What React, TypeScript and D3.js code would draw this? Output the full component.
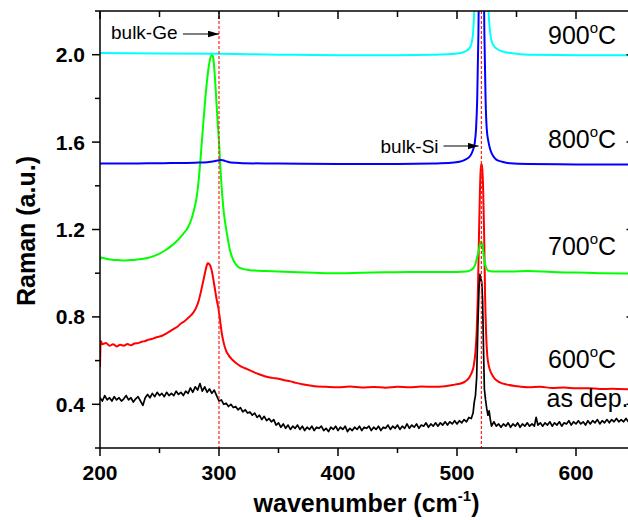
import React from 'react';
import * as d3 from 'd3';

type P = [number, number];

const xMajor = [200, 300, 400, 500, 600];
const xMinor = [250, 350, 450, 550, 650];
const yMajor = [0.4, 0.8, 1.2, 1.6, 2.0];
const yMinor = [0.2, 0.6, 1.0, 1.4, 1.8, 2.2];
const yTickLabels = ['0.4', '0.8', '1.2', '1.6', '2.0'];
const refLines = [300, 520.5];

const asDep: P[] = [
  [200,.43],[202,.415],[204,.44],[206,.42],[208,.43],[210,.415],[212,.435],[214,.42],[216,.43],[218,.415],
  [220,.425],[222,.44],[224,.42],[226,.43],[228,.41],[230,.425],[232,.435],[234,.415],[236,.395],[238,.43],
  [240,.445],[242,.43],[244,.45],[246,.435],[248,.455],[250,.44],[252,.45],[254,.435],[256,.455],[258,.44],
  [260,.45],[262,.44],[264,.46],[266,.445],[268,.455],[270,.44],[272,.46],[274,.45],[276,.475],[278,.455],
  [280,.48],[282,.465],[284,.495],[286,.46],[288,.48],[290,.455],[292,.47],[294,.45],[296,.465],[298,.44],
  [300,.415],[302,.42],[304,.40],[306,.405],[308,.39],[310,.40],[312,.385],[314,.39],[316,.375],[318,.385],
  [320,.365],[322,.375],[324,.36],[326,.365],[328,.35],[330,.36],[332,.34],[334,.35],[336,.33],[338,.345],
  [340,.325],[342,.335],[344,.32],[346,.33],[348,.305],[350,.315],[352,.295],[354,.31],[356,.29],[358,.305],
  [360,.285],[362,.30],[364,.29],[366,.305],[368,.285],[370,.30],[372,.28],[374,.295],[376,.285],[378,.30],
  [380,.28],[382,.295],[384,.29],[386,.30],[388,.28],[390,.29],[392,.275],[394,.295],[396,.285],[398,.30],
  [400,.28],[402,.295],[404,.285],[406,.30],[408,.275],[410,.29],[412,.28],[414,.295],[416,.285],[418,.30],
  [420,.28],[422,.295],[424,.29],[426,.30],[428,.28],[430,.295],[432,.285],[434,.30],[436,.28],[438,.295],
  [440,.29],[442,.305],[444,.285],[446,.30],[448,.29],[450,.305],[452,.285],[454,.30],[456,.29],[458,.31],
  [460,.29],[462,.305],[464,.295],[466,.31],[468,.29],[470,.305],[472,.30],[474,.315],[476,.295],[478,.31],
  [480,.30],[482,.315],[484,.30],[486,.315],[488,.305],[490,.32],[492,.305],[494,.32],[496,.31],[498,.325],
  [500,.31],[502,.325],[504,.315],[506,.33],[508,.32],[510,.34],[512,.335],[513.5,.36],[514.5,.41],[515.5,.44],
  [516.5,.52],[517.5,.75],[518.5,.93],[519.3,.995],[520,.975],[520.8,.96],[521.5,.88],[522.3,.65],[523,.47],[524,.42],
  [525,.38],[526,.35],[527,.37],[528,.33],[529,.30],[531,.32],[533,.30],[535,.31],[537,.295],[539,.31],
  [541,.30],[543,.315],[545,.295],[547,.31],[549,.30],[551,.315],[553,.295],[555,.31],[557,.30],[559,.315],
  [561,.30],[563,.31],[565,.30],[566.5,.34],[568,.305],[570,.315],[572,.30],[574,.315],[576,.305],[578,.32],
  [580,.30],[582,.315],[584,.305],[586,.32],[588,.30],[590,.315],[592,.31],[594,.325],[596,.305],[598,.32],
  [600,.31],[602,.325],[604,.31],[606,.32],[608,.305],[610,.325],[612,.31],[614,.325],[616,.315],[618,.33],
  [620,.31],[622,.325],[624,.315],[626,.33],[628,.315],[630,.33],[632,.32],[634,.335],[636,.32],[638,.33],
  [640,.32],[642,.335],[644,.32],[646,.33],
];

const t600: P[] = [
  [200,0.57],[200.6,0.69],[202,0.675],[205,0.68],[208,0.668],[211,0.675],[214,0.665],[217,0.672],[220,0.668],[223,0.676],
  [226,0.67],[229,0.678],[232,0.68],[235,0.686],[238,0.69],[241,0.696],[244,0.70],[247,0.706],[250,0.71],[253,0.716],
  [256,0.725],[259,0.735],[262,0.745],[265,0.755],[268,0.77],[271,0.78],[274,0.795],[277,0.81],[279,0.825],[281,0.845],
  [283,0.875],[285,0.92],[287,0.97],[289,1.02],[290.5,1.045],[292,1.04],[293.5,1.02],[295,0.98],[296.5,0.93],[298,0.88],
  [299.5,0.84],[301,0.78],[302.5,0.72],[304,0.68],[306,0.645],[308,0.625],[311,0.605],[314,0.59],[318,0.575],[322,0.565],
  [326,0.555],[330,0.545],[335,0.535],[340,0.526],[345,0.521],[350,0.517],[355,0.51],[360,0.505],[365,0.498],[370,0.492],
  [375,0.487],[380,0.483],[390,0.48],[400,0.478],[410,0.481],[420,0.477],[430,0.479],[440,0.476],[450,0.48],[460,0.478],
  [470,0.481],[480,0.48],[490,0.483],[498,0.49],[503,0.495],[507,0.505],[510,0.52],[512,0.54],[514,0.575],[515.5,0.64],
  [516.5,0.73],[517.5,0.9],[518.5,1.18],[519.3,1.38],[520,1.48],[520.6,1.50],[521.2,1.48],[522,1.38],[522.8,1.18],[523.6,0.9],
  [524.5,0.72],[525.5,0.62],[527,0.57],[529,0.54],[532,0.515],[536,0.5],[542,0.49],[550,0.483],[560,0.478],[570,0.48],
  [580,0.475],[590,0.477],[600,0.473],[610,0.474],[620,0.47],[630,0.471],[646,0.468],
];

const t700: P[] = [
  [200,1.06],[201,1.072],[205,1.066],[210,1.062],[215,1.06],[220,1.058],[225,1.06],[230,1.062],[235,1.065],[240,1.07],
  [245,1.078],[250,1.09],[255,1.105],[260,1.125],[265,1.15],[270,1.18],[274,1.21],[277,1.25],[279,1.29],[281,1.34],
  [283,1.43],[285,1.56],[287,1.70],[289,1.83],[291,1.93],[292.5,1.98],[294,2.0],[295,1.99],[296,1.94],[297,1.86],
  [298,1.77],[299,1.68],[300,1.60],[301,1.5],[302,1.41],[303,1.34],[304,1.28],[305.5,1.22],[307,1.17],[309,1.11],
  [311,1.075],[313,1.05],[316,1.03],[320,1.02],[325,1.015],[330,1.012],[340,1.01],[360,1.005],[380,1.002],[400,1.0],
  [420,1.002],[440,1.004],[460,1.005],[480,1.006],[500,1.006],[508,1.008],[512,1.015],[515,1.035],[517,1.075],[518.5,1.11],
  [519.5,1.135],[520.3,1.145],[521.2,1.13],[522.2,1.095],[523.2,1.05],[524.5,1.025],[526,1.012],[530,1.008],[545,1.008],[560,1.01],
  [580,1.005],[600,1.003],[620,1.0],[646,0.998],
];

const t800: P[] = [
  [200,1.502],[220,1.502],[240,1.503],[260,1.504],[280,1.506],[290,1.508],[296,1.512],[300,1.517],[302,1.518],[305,1.514],
  [308,1.509],[314,1.505],[320,1.503],[350,1.502],[400,1.5],[450,1.5],[480,1.502],[495,1.505],[502,1.51],[507,1.52],
  [510,1.53],[512,1.545],[513.5,1.565],[515,1.6],[516,1.66],[517,1.8],[518,2.1],[519,2.6],[520.5,3.2],[522,2.6],
  [523,2.1],[524,1.8],[525,1.66],[526.5,1.6],[528,1.565],[530,1.54],[533,1.52],[538,1.51],[545,1.503],[560,1.5],
  [600,1.498],[646,1.497],
];

const t900: P[] = [
  [200,2.008],[250,2.006],[300,2.004],[350,2.0],[400,1.998],[450,1.998],[480,2.0],[495,2.003],[503,2.008],[508,2.018],
  [511,2.035],[512.5,2.06],[513.5,2.1],[514.5,2.2],[516,2.5],[518,3.0],[520.5,3.5],[523,3.0],[525,2.5],[526.5,2.2],
  [527.5,2.12],[529,2.065],[531,2.04],[534,2.025],[538,2.015],[545,2.008],[560,2.0],[600,1.998],[646,1.997],
];

const FONT = '"Liberation Sans", Arial, Helvetica, sans-serif';

export default function App() {
  const W = 628, H = 520;
  const left = 100, right = 635.5, top = 11, bottom = 448;
  const x = d3.scaleLinear().domain([200, 650]).range([left, right]);
  const y = d3.scaleLinear().domain([0.2, 2.2]).range([bottom, top]);

  const smooth = d3.line<P>().x(d => x(d[0])).y(d => y(d[1])).curve(d3.curveMonotoneX);
  const linear = d3.line<P>().x(d => x(d[0])).y(d => y(d[1]));

  const series = [
    { data: t600, color: '#ff0000', gen: smooth, w: 2 },
    { data: asDep, color: '#000000', gen: linear, w: 1.7 },
    { data: t700, color: '#00ff00', gen: smooth, w: 2 },
    { data: t800, color: '#0000ff', gen: smooth, w: 2 },
    { data: t900, color: '#00ffff', gen: smooth, w: 2 },
  ];

  const tempLabels = [
    { t: '900', yy: 43.5 },
    { t: '800', yy: 148 },
    { t: '700', yy: 255 },
    { t: '600', yy: 368 },
  ];

  return (
    <svg width={W} height={H} style={{ position: 'absolute', left: 0, top: 0, background: '#fff' }}
      fontFamily={FONT}>
      <defs>
        <clipPath id="plot">
          <rect x={left} y={top} width={right - left} height={bottom - top} />
        </clipPath>
        <marker id="arr" viewBox="0 0 10 6" refX="10" refY="3" markerWidth="11" markerHeight="7" markerUnits="userSpaceOnUse" orient="auto">
          <path d="M0,0 L10,3 L0,6 Z" fill="#000" />
        </marker>
      </defs>
      <rect x={0} y={0} width={W} height={H} fill="#fff" />

      <g clipPath="url(#plot)">
        {series.map((s, i) => (
          <path key={i} d={s.gen(s.data) || ''} fill="none" stroke={s.color} strokeWidth={s.w} strokeLinejoin="round" />
        ))}
        {refLines.map((v, i) => (
          <line key={i} x1={x(v)} x2={x(v)} y1={top} y2={bottom} stroke="#ff2020" strokeWidth={1.2} strokeDasharray="3,2" />
        ))}
      </g>

      <g stroke="#000" strokeWidth={1.5}>
        <line x1={left} x2={left} y1={top} y2={bottom} />
        <line x1={left} x2={right} y1={bottom} y2={bottom} />
        <line x1={left} x2={right} y1={top} y2={top} />
        <line x1={right} x2={right} y1={top} y2={bottom} />
        {xMajor.map(v => <line key={'bx' + v} x1={x(v)} x2={x(v)} y1={bottom} y2={bottom + 8} />)}
        {xMinor.map(v => <line key={'bm' + v} x1={x(v)} x2={x(v)} y1={bottom} y2={bottom + 5} />)}
        {xMajor.map(v => <line key={'tx' + v} x1={x(v)} x2={x(v)} y1={top} y2={top + 8} />)}
        {xMinor.map(v => <line key={'tm' + v} x1={x(v)} x2={x(v)} y1={top} y2={top + 6} />)}
        {yMajor.map(v => <line key={'ly' + v} x1={left - 8} x2={left} y1={y(v)} y2={y(v)} />)}
        {yMinor.map(v => <line key={'lm' + v} x1={left - 5} x2={left} y1={y(v)} y2={y(v)} />)}
        {yMajor.map(v => <line key={'ry' + v} x1={right - 9} x2={right} y1={y(v)} y2={y(v)} />)}
        {yMinor.map(v => <line key={'rm' + v} x1={right - 5} x2={right} y1={y(v)} y2={y(v)} />)}
      </g>

      <g fontWeight="bold" fontSize={21} fill="#000">
        {xMajor.map(v => (
          <text key={'xl' + v} x={x(v)} y={480} textAnchor="middle">{v}</text>
        ))}
        {yMajor.map((v, i) => (
          <text key={'yl' + v} x={85} y={y(v) + 7.5} textAnchor="end">{yTickLabels[i]}</text>
        ))}
      </g>

      <text x={366.5} y={512} textAnchor="middle" fontWeight="bold" fontSize={25}>
        wavenumber (cm<tspan dy={-11} fontSize={15}>-1</tspan><tspan dy={11}>)</tspan>
      </text>
      <text transform="translate(35,231) rotate(-90)" textAnchor="middle" fontWeight="bold" fontSize={25}>
        Raman (a.u.)
      </text>

      <g fontSize={25} fill="#000">
        {tempLabels.map(l => (
          <text key={l.t} x={548} y={l.yy}>
            {l.t}<tspan dy={-11} fontSize={15}>o</tspan><tspan dy={11}>C</tspan>
          </text>
        ))}
        <text x={546.5} y={407}>as dep.</text>
      </g>

      <g fontSize={19} fill="#000">
        <text x={111} y={39}>bulk-Ge</text>
        <line x1={183} x2={x(300)} y1={34} y2={34} stroke="#000" strokeWidth={1.2} markerEnd="url(#arr)" />
        <text x={380.5} y={152.5}>bulk-Si</text>
        <line x1={443.5} x2={478.5} y1={146} y2={146} stroke="#000" strokeWidth={1.2} markerEnd="url(#arr)" />
      </g>
    </svg>
  );
}
